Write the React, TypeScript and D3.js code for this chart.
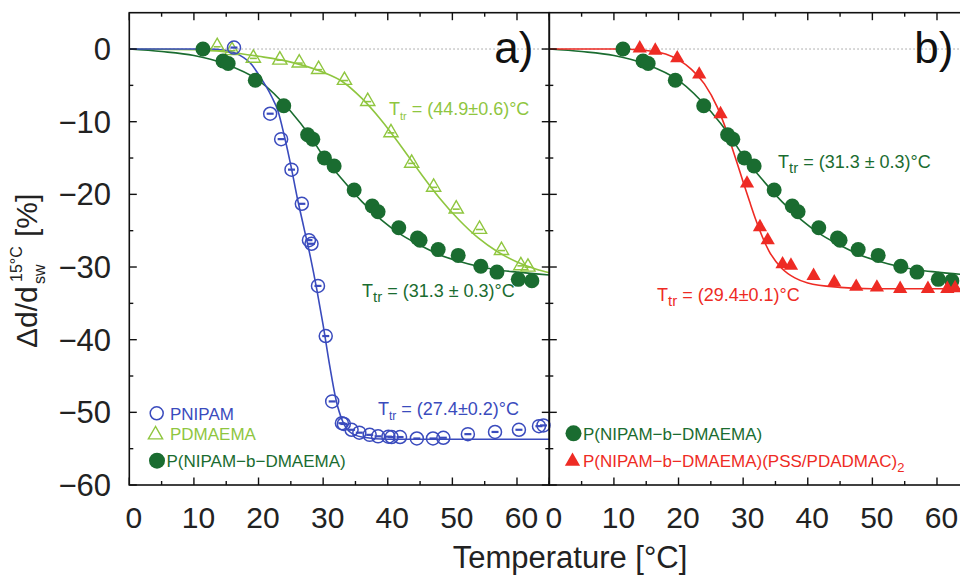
import React from 'react'
import * as d3 from 'd3'

// ---- data (temperature in °C, swelling change in %) ----
const tempTicks = [0, 10, 20, 30, 40, 50, 60]
const sizeTicks = [0, -10, -20, -30, -40, -50, -60]

const pnipamPts = [
  {t: 16.2, v: 0.2}, {t: 21.8, v: -8.9}, {t: 23.5, v: -12.4}, {t: 25.1, v: -16.6},
  {t: 26.7, v: -21.3}, {t: 27.8, v: -26.3}, {t: 28.2, v: -26.8}, {t: 29.2, v: -32.6},
  {t: 30.4, v: -39.5}, {t: 31.4, v: -48.5}, {t: 32.9, v: -51.5}, {t: 33.2, v: -51.6},
  {t: 34.4, v: -52.4}, {t: 35.6, v: -52.8}, {t: 37.2, v: -53.1}, {t: 38.5, v: -53.3},
  {t: 40.1, v: -53.35}, {t: 40.6, v: -53.4}, {t: 41.9, v: -53.4}, {t: 44.5, v: -53.6},
  {t: 47.0, v: -53.6}, {t: 48.6, v: -53.5}, {t: 52.4, v: -53.0}, {t: 56.6, v: -52.7},
  {t: 60.3, v: -52.4}, {t: 63.4, v: -51.9}, {t: 64.1, v: -51.8},
]
const pnipamFit = [
  {t: 0, v: 0}, {t: 12, v: 0}, {t: 15, v: -0.2}, {t: 17, v: -0.8}, {t: 19, v: -2.2},
  {t: 20, v: -3.5}, {t: 22, v: -6.5}, {t: 23, v: -8.5}, {t: 24, v: -12}, {t: 25, v: -16},
  {t: 26, v: -20.5}, {t: 27, v: -24.5}, {t: 28, v: -28.5}, {t: 29, v: -33}, {t: 30, v: -38},
  {t: 31, v: -43.5}, {t: 32, v: -48.3}, {t: 33, v: -51.2}, {t: 34, v: -52.6}, {t: 36, v: -53.4},
  {t: 40, v: -53.7}, {t: 50, v: -53.7}, {t: 65, v: -53.7},
]

const pdmaemaPts = [
  {t: 13.6, v: 0.45}, {t: 15.9, v: -0.1}, {t: 19.2, v: -1.15}, {t: 23.3, v: -1.4},
  {t: 26.3, v: -1.8}, {t: 29.3, v: -2.7}, {t: 33.3, v: -4.2}, {t: 36.9, v: -7.1},
  {t: 40.5, v: -11.4}, {t: 43.7, v: -15.6}, {t: 47.1, v: -18.9}, {t: 50.6, v: -21.9},
  {t: 54.2, v: -24.7}, {t: 57.6, v: -27.6}, {t: 60.6, v: -29.7}, {t: 61.7, v: -29.9},
]
const pdmaemaFit = [
  {t: 0, v: 0}, {t: 10, v: -0.1}, {t: 15, v: -0.4}, {t: 20, v: -1.0}, {t: 25, v: -1.8},
  {t: 30, v: -3.2}, {t: 33, v: -4.5}, {t: 36, v: -6.8}, {t: 39, v: -9.8}, {t: 42, v: -13.3},
  {t: 45, v: -17}, {t: 48, v: -20.5}, {t: 51, v: -23.5}, {t: 54, v: -26}, {t: 57, v: -27.9},
  {t: 60, v: -29.3}, {t: 63, v: -30.3}, {t: 65, v: -30.8},
]

const blockPts = [
  {t: 11.4, v: 0}, {t: 14.5, v: -1.65}, {t: 15.3, v: -2.0}, {t: 19.5, v: -4.3},
  {t: 23.9, v: -7.8}, {t: 27.6, v: -11.8}, {t: 28.4, v: -12.4}, {t: 30.2, v: -15.0},
  {t: 31.7, v: -16.1}, {t: 34.8, v: -19.4}, {t: 37.6, v: -21.6}, {t: 38.5, v: -22.4},
  {t: 41.7, v: -24.6}, {t: 44.6, v: -26.0}, {t: 45.0, v: -26.3}, {t: 47.8, v: -27.6},
  {t: 50.9, v: -28.4}, {t: 54.4, v: -29.9}, {t: 56.9, v: -30.7}, {t: 60.2, v: -31.7},
  {t: 62.3, v: -31.9},
]
const blockFit = [
  {t: 0, v: 0}, {t: 5, v: -0.35}, {t: 10, v: -0.9}, {t: 15, v: -2.1}, {t: 20, v: -4.3},
  {t: 25, v: -8.6}, {t: 28, v: -12}, {t: 30, v: -14.7}, {t: 33, v: -18}, {t: 36, v: -21},
  {t: 39, v: -23.5}, {t: 42, v: -25.5}, {t: 45, v: -27}, {t: 48, v: -28.3}, {t: 51, v: -29.2},
  {t: 54, v: -29.9}, {t: 57, v: -30.4}, {t: 60, v: -30.7}, {t: 65, v: -31.1},
]

const coatedPts = [
  {t: 14.0, v: 0.2}, {t: 16.4, v: -0.1}, {t: 19.8, v: -1.15}, {t: 23.2, v: -3.4},
  {t: 26.5, v: -8.85}, {t: 30.6, v: -18.4}, {t: 32.6, v: -24.4}, {t: 33.8, v: -26.2},
  {t: 36.1, v: -29.5}, {t: 37.4, v: -29.7}, {t: 40.9, v: -31.1}, {t: 44.1, v: -32.0},
  {t: 47.5, v: -32.6}, {t: 50.7, v: -32.7}, {t: 54.3, v: -32.9}, {t: 58.6, v: -32.9},
  {t: 61.6, v: -32.9}, {t: 62.8, v: -32.8},
]
const coatedFit = [
  {t: 0, v: 0}, {t: 10, v: 0}, {t: 15, v: -0.2}, {t: 18, v: -0.7}, {t: 20, v: -1.5},
  {t: 22, v: -2.8}, {t: 24, v: -4.8}, {t: 26, v: -8}, {t: 27, v: -10.2}, {t: 28, v: -12.8},
  {t: 29, v: -15.5}, {t: 30, v: -18.3}, {t: 31, v: -21}, {t: 32, v: -23.6}, {t: 33, v: -25.9},
  {t: 34, v: -27.8}, {t: 36, v: -30.2}, {t: 38, v: -31.5}, {t: 40, v: -32.2}, {t: 45, v: -32.8},
  {t: 50, v: -33}, {t: 65, v: -33},
]

const BLUE = '#3a4bbd'
const LIGHT = '#8fc63f'
const DARK = '#1a6c30'
const RED = '#ee2b24'
const FONT = '"Liberation Sans", Arial, Helvetica, sans-serif'

const W = 960, H = 575
const top = 12.7, bottom = 485
const panelW = 420
const panels = [{x0: 129.3, label: 'a)'}, {x0: 549.3, label: 'b)'}]

const yScale = d3.scaleLinear().domain([-60, 5]).range([bottom, top])

function OpenCircle({x, y, c, bar = true}) {
  return <g>
    <circle cx={x} cy={y} r={6.5} fill="none" stroke={c} strokeWidth={1.5} />
    {bar && <line x1={x - 3.5} x2={x + 3.5} y1={y} y2={y} stroke={c} strokeWidth={2.2} />}
  </g>
}
function tri(x, y, s) {
  return `M${x},${y - s}L${x - s * 0.95},${y + s * 0.65}L${x + s * 0.95},${y + s * 0.65}Z`
}
function OpenTriangle({x, y, c}) {
  return <g>
    <path d={tri(x, y, 7.5)} fill="none" stroke={c} strokeWidth={1.4} />
    <line x1={x - 3.5} x2={x + 3.5} y1={y + 1} y2={y + 1} stroke={c} strokeWidth={1.6} />
  </g>
}
function FilledTriangle({x, y, c}) {
  return <path d={tri(x, y, 7.5)} fill={c} />
}

function Ttr({x, y, c, rest, sub = 12, size = 18}) {
  return <text x={x} y={y} fill={c} fontSize={size} fontFamily={FONT}>
    T<tspan dy={5} fontSize={sub}>tr</tspan><tspan dy={-5}>{rest}</tspan>
  </text>
}

function Panel({x0, label, children}) {
  const x = d3.scaleLinear().domain([0, 65]).range([x0, x0 + panelW])
  const minorT = d3.range(0, 66, 5)
  const minorV = d3.range(0, -61, -5)
  return <g>
    <line x1={x(0)} x2={x(65)} y1={yScale(0)} y2={yScale(0)} stroke="#999" strokeWidth={1} strokeDasharray="1.5 2.5" />
    {children(x)}
    <rect x={x0} y={top} width={panelW} height={bottom - top} fill="none" stroke="#111" strokeWidth={1.6} />
    {minorT.map(t => {
      const len = t % 10 === 0 ? 7.5 : 4
      return <g key={'t' + t}>
        <line x1={x(t)} x2={x(t)} y1={top} y2={top + len} stroke="#111" strokeWidth={1.4} />
        <line x1={x(t)} x2={x(t)} y1={bottom} y2={bottom - len} stroke="#111" strokeWidth={1.4} />
      </g>
    })}
    {minorV.map(v => {
      const len = v % 10 === 0 ? 7.5 : 4
      return <g key={'v' + v}>
        <line x1={x0} x2={x0 + len} y1={yScale(v)} y2={yScale(v)} stroke="#111" strokeWidth={1.4} />
        <line x1={x0 + panelW} x2={x0 + panelW - len} y1={yScale(v)} y2={yScale(v)} stroke="#111" strokeWidth={1.4} />
      </g>
    })}
    {tempTicks.map(t => <text key={'l' + t} x={x(t) + 4.5} y={528} textAnchor="middle" fontSize={30} fontFamily={FONT} fill="#222">{t}</text>)}
    <text x={x(65) - 16} y={63} textAnchor="end" fontSize={44} fontFamily={FONT} fill="#111">{label}</text>
  </g>
}

export default function App() {
  const fit = (x) => d3.line().x(d => x(d.t)).y(d => yScale(d.v)).curve(d3.curveMonotoneX)
  return (
    <svg width={W} height={H} style={{position: 'absolute', left: 0, top: 0, background: '#fff'}}>
      <rect width={W} height={H} fill="#fff" />
      <Panel {...panels[0]}>{x => <g>
        <path d={fit(x)(pdmaemaFit)} fill="none" stroke={LIGHT} strokeWidth={1.6} />
        <path d={fit(x)(blockFit)} fill="none" stroke={DARK} strokeWidth={1.6} />
        <path d={fit(x)(pnipamFit)} fill="none" stroke={BLUE} strokeWidth={1.6} />
        {pdmaemaPts.map((d, i) => <OpenTriangle key={'p' + i} x={x(d.t)} y={yScale(d.v)} c={LIGHT} />)}
        {blockPts.map((d, i) => <circle key={'b' + i} cx={x(d.t)} cy={yScale(d.v)} r={7.5} fill={DARK} />)}
        {pnipamPts.map((d, i) => <OpenCircle key={'n' + i} x={x(d.t)} y={yScale(d.v)} c={BLUE} />)}
        <Ttr x={389} y={115} c={LIGHT} rest=" = (44.9±0.6)°C" sub={11} size={18} />
        <Ttr x={362} y={297} c={DARK} rest=" = (31.3 ± 0.3)°C" sub={15} />
        <Ttr x={378} y={415} c={BLUE} rest=" = (27.4±0.2)°C" sub={12} />
        <OpenCircle x={156.7} y={413.3} c={BLUE} bar={false} />
        <text x={170} y={419.5} fill={BLUE} fontSize={17} fontFamily={FONT}>PNIPAM</text>
        <path d={tri(155.5, 434, 7.5)} fill="none" stroke={LIGHT} strokeWidth={1.4} />
        <text x={170} y={440} fill={LIGHT} fontSize={17} fontFamily={FONT}>PDMAEMA</text>
        <circle cx={157} cy={460.7} r={8} fill={DARK} />
        <text x={166.5} y={467} fill={DARK} fontSize={17} fontFamily={FONT}>P(NIPAM−b−DMAEMA)</text>
      </g>}</Panel>
      <Panel {...panels[1]}>{x => <g>
        <path d={fit(x)(blockFit)} fill="none" stroke={DARK} strokeWidth={1.6} />
        <path d={fit(x)(coatedFit)} fill="none" stroke={RED} strokeWidth={1.6} />
        {blockPts.map((d, i) => <circle key={'b' + i} cx={x(d.t)} cy={yScale(d.v)} r={7.5} fill={DARK} />)}
        {coatedPts.map((d, i) => <FilledTriangle key={'c' + i} x={x(d.t)} y={yScale(d.v)} c={RED} />)}
        <Ttr x={778} y={168} c={DARK} rest=" = (31.3 ± 0.3)°C" sub={15} />
        <Ttr x={657} y={300.5} c={RED} rest=" = (29.4±0.1)°C" sub={15} />
        <circle cx={573.5} cy={433.3} r={8} fill={DARK} />
        <text x={583} y={440} fill={DARK} fontSize={17} fontFamily={FONT}>P(NIPAM−b−DMAEMA)</text>
        <path d={tri(572.5, 460.5, 8)} fill={RED} />
        <text x={583} y={467} fill={RED} fontSize={17} fontFamily={FONT}>
          P(NIPAM−b−DMAEMA)(PSS/PDADMAC)<tspan dy={5} fontSize={13}>2</tspan>
        </text>
      </g>}</Panel>
      {sizeTicks.map(v => <text key={v} x={111} y={yScale(v) + 11} textAnchor="end" fontSize={31} fontFamily={FONT} fill="#222">{v === 0 ? '0' : '−' + Math.abs(v)}</text>)}
      <text x={570} y={568} textAnchor="middle" fontSize={31} fontFamily={FONT} fill="#222">Temperature [°C]</text>
      <g transform="translate(37,348) rotate(-90)" fontFamily={FONT} fill="#222">
        <text x={0} y={0} fontSize={30}>Δd/d</text>
        <text x={64} y={8} fontSize={16}>sw</text>
        <text x={66} y={-15} fontSize={16}>15°C</text>
        <text x={111} y={0} fontSize={30}>[%]</text>
      </g>
    </svg>
  )
}
